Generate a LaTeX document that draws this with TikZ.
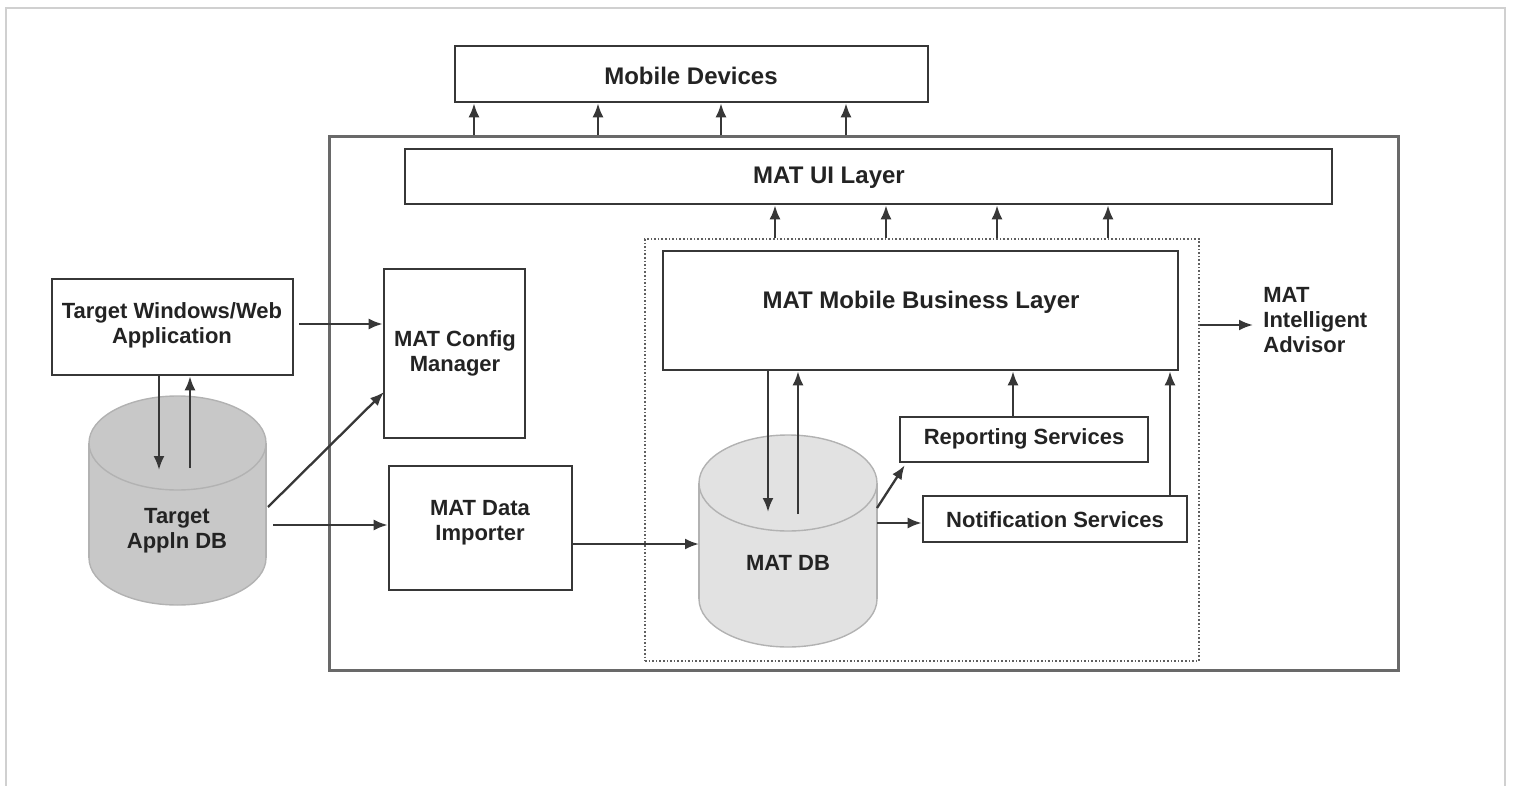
\documentclass[tikz,border=0pt]{standalone}
\usepackage{fontspec}
\setmainfont{Liberation Sans}
\usetikzlibrary{arrows.meta}
\usetikzlibrary{fit}
\usetikzlibrary{positioning}
\definecolor{linec}{RGB}{55,55,55}
\definecolor{outerc}{RGB}{105,105,105}
\definecolor{textc}{RGB}{35,35,35}
\definecolor{framec}{RGB}{208,208,208}
\definecolor{dbline}{RGB}{178,178,178}
\definecolor{dbdark}{RGB}{200,200,200}
\definecolor{dblight}{RGB}{226,226,226}
% cylinder: left x, right x, top y, bottom y, y radius, fill
\newcommand{\dbcyl}[6]{%
  \filldraw[fill=#6,draw=dbline,line width=0.7pt] ({(#1+#2)/2},#4) ellipse ({(#2-#1)/2} and #5);
  \fill[#6] (#1,#3) rectangle (#2,#4);
  \draw[dbline,line width=0.7pt] (#1,#3) -- (#1,#4) (#2,#3) -- (#2,#4);
  \filldraw[fill=#6,draw=dbline,line width=0.7pt] ({(#1+#2)/2},#3) ellipse ({(#2-#1)/2} and #5);
}

\begin{document}
\begin{tikzpicture}[x=0.5pt,y=-0.5pt,>={Latex[length=7pt,width=5.5pt]},
		txt/.style={text=textc,align=center,inner sep=0pt,font=\bfseries\fontsize{11}{12.5}\selectfont},
		big/.style={txt,font=\bfseries\fontsize{12}{14}\selectfont},
		box/.style={rectangle,draw=linec,line width=1.3pt,inner sep=0pt,fit={#1}},
		outer/.style={rectangle,draw=outerc,line width=1.5pt,inner sep=0pt,fit={#1}},
		dotbox/.style={rectangle,draw=linec!80,densely dotted,line width=0.8pt,inner sep=0pt,fit={#1}},
		arr/.style={->,draw=linec,line width=1.15pt}]
		\useasboundingbox (0,0) rectangle (1514,786);
		\draw[framec,line width=0.9pt] (6,786) -- (6,8) -- (1505,8) -- (1505,786);
		
		\node[box={(455,46) (928,102)}]      (mobile)   {};
		\node[big]                            (mobilelbl) at (691,76) {Mobile Devices};
		\node[outer={(329,137) (1398,670)}]  (mat)      {};
		\node[box={(405,149) (1332,204)}]    (ui)       {};
		\node[big]                            (uilbl)    at (829,178) {MAT UI Layer};
		\node[dotbox={(645,239) (1199,661)}] (core)     {};
		\node[box={(663,251) (1178,370)}]    (biz)      {};
		\node[big]                            (bizlbl)   at (921,302) {MAT Mobile Business Layer};
		\node[box={(900,417) (1148,462)}]    (rep)      {};
		\node[txt]                            (replbl)   at (1024,439) {Reporting Services};
		\node[box={(923,496) (1187,542)}]    (note)     {};
		\node[txt]                            (notelbl)  at (1055,520) {Notification Services};
		\node[box={(384,269) (525,438)}]     (cfg)      {};
		\node[txt]                            (cfglbl)   at (455,353) {MAT Config\\Manager};
		\node[box={(389,466) (572,590)}]     (imp)      {};
		\node[txt]                            (implbl)   at (480,523) {MAT Data\\Importer};
		\node[box={(52,279) (293,375)}]      (tapp)     {};
		\node[txt]                            (tapplbl)  at (172,325) {Target Windows/Web\\Application};
		\node[txt,anchor=west,align=left]    (adv)      at (1263,320) {MAT\\Intelligent\\Advisor};
		
		% databases
		\dbcyl{89}{266}{443}{558}{47}{dbdark}
		\node[txt] (tdb) at (177,531) {Target\\Appln DB};
		\dbcyl{699}{877}{483}{599}{48}{dblight}
		\node[txt] (mdb) at (788,563) {MAT DB};
		
		\coordinate (tdbin)   at (159,470);
		\coordinate (tdbout)  at (190,468);
		\coordinate (tdbcfg)  at (268,507);
		\coordinate (cfgin)   at (384,392);
		\coordinate (tdbimp)  at (273,525);
		\coordinate (mdbw)    at (699,544);
		\coordinate (mdbin)   at (768,512);
		\coordinate (mdbout)  at (798,514);
		\coordinate (mdbrep)  at (877,508);
		\coordinate (mdbnote) at (877,523);
		\coordinate (repx)    at (1013,0);
		\coordinate (notex)   at (1170,0);
		\coordinate (advin)   at (1253,325);
		
		\foreach \x in {474,598,721,846} {
			\coordinate (p) at (\x,0);
			\draw[arr] (mat.north -| p) -- (mobile.south -| p);
		}
		\foreach \x in {775,886,997,1108} {
			\coordinate (p) at (\x,0);
			\draw[arr] (core.north -| p) -- (ui.south -| p);
		}
		
		\draw[arr] (tapp.south -| tdbin) -- (tdbin);
		\draw[arr] (tdbout) -- (tapp.south -| tdbout);
		\draw[arr] ([xshift=2.5pt,yshift=1.5pt]tapp.east) -- ([yshift=1.5pt]tapp.east -| cfg.west);
		\draw[arr] (tdbcfg) -- (cfgin);
		\draw[arr] (tdbimp) -- (tdbimp -| imp.west);
		\draw[arr] (imp.east |- mdbw) -- (mdbw);
		\draw[arr] (biz.south -| mdbin) -- (mdbin);
		\draw[arr] (mdbout) -- (biz.south -| mdbout);
		\draw[arr] (mdbrep) -- ([xshift=3pt,yshift=-1pt]rep.south west);
		\draw[arr] (mdbnote) -- (mdbnote -| note.west);
		\draw[arr] (rep.north -| repx) -- (biz.south -| repx);
		\draw[arr] (note.north -| notex) -- (biz.south -| notex);
		\draw[arr] (core.east |- advin) -- (advin);
\end{tikzpicture}
\end{document}
